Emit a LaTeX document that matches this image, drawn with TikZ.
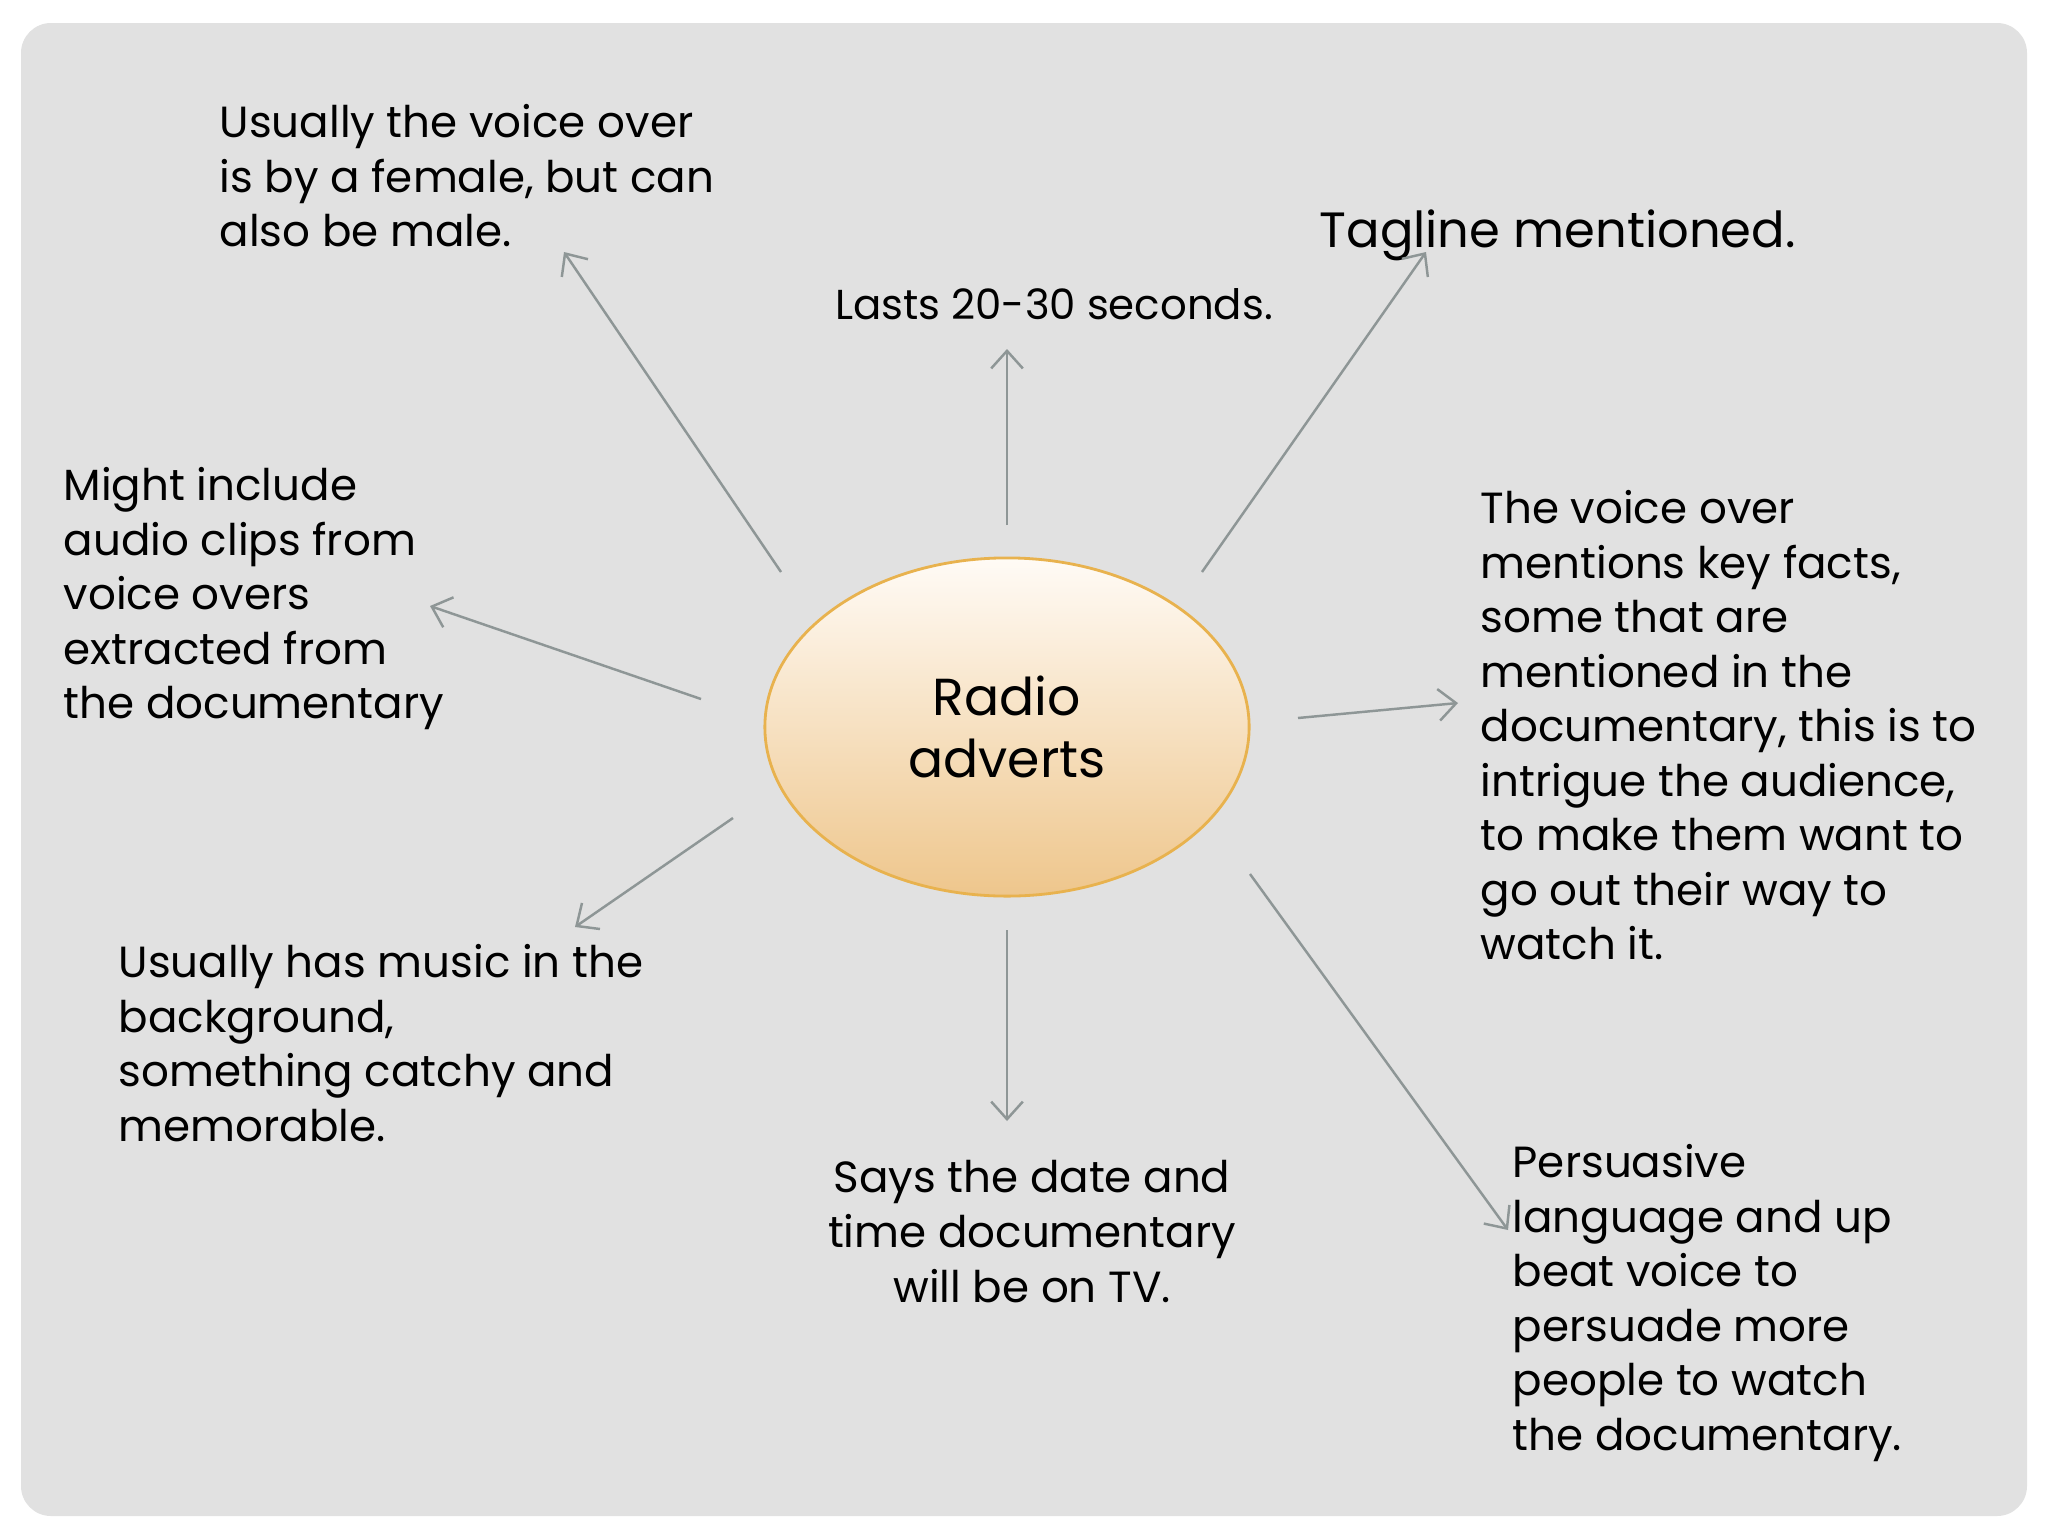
\documentclass[tikz,border=0pt]{standalone}
\usepackage{fontspec}
\setmainfont{Poppins}
\usetikzlibrary{arrows.meta,shapes.geometric}
\definecolor{bgcol}{HTML}{E1E1E1}
\definecolor{arrcol}{HTML}{8E9696}
\definecolor{elltop}{HTML}{FFFBF6}
\definecolor{ellbot}{HTML}{EEC68C}
\definecolor{elledge}{HTML}{E8B24E}
\tikzset{
  conn/.style={draw=arrcol, line width=0.7pt, -{Straight Barb[length=5pt,width=9pt,line width=0.7pt]}},
  body/.style={inner sep=0pt, align=left, font=\fontsize{12.4}{15.5}\selectfont},
}
\begin{document}
\begin{tikzpicture}[x=0.01cm,y=-0.01cm]
\useasboundingbox (0,0) rectangle (2048,1536);
\fill[white] (0,0) rectangle (2048,1536);
\fill[bgcol, rounded corners=0.3cm] (21,23) rectangle (2027,1516);

\node[ellipse, draw=elledge, line width=0.8pt, top color=elltop, bottom color=ellbot,
      minimum width=4.84cm, minimum height=3.38cm, inner sep=0pt, align=center,
      font=\fontsize{14.8}{17.5}\selectfont] (hub) at (1007,727) {Radio\\adverts};

\node[body, anchor=north west] (female) at (219,104) {Usually the voice over\\is by a female, but can\\also be male.};
\node[inner sep=0pt, anchor=base, font=\fontsize{11.9}{15.5}\selectfont] (lasts) at (1054,319) {Lasts 20-30 seconds.};
\node[inner sep=0pt, anchor=base west, font=\fontsize{14.1}{18}\selectfont] (tag) at (1319,247) {Tagline mentioned.};
\node[body, anchor=north west] (clips) at (63,467) {Might include\\audio clips from\\voice overs\\extracted from\\the documentary};
\node[body, anchor=north west] (facts) at (1480,490) {The voice over\\mentions key facts,\\some that are\\mentioned in the\\documentary, this is to\\intrigue the audience,\\to make them want to\\go out their way to\\watch it.};
\node[body, anchor=north west] (music) at (118,944) {Usually has music in the\\background,\\something catchy and\\memorable.};
\node[body, anchor=north, align=center] (date) at (1032,1160) {Says the date and\\time documentary\\will be on TV.};
\node[body, anchor=north west] (persuade) at (1512,1144) {Persuasive\\language and up\\beat voice to\\persuade more\\people to watch\\the documentary.};

\coordinate (s1) at (781,572);  \coordinate (e1) at (564,252);
\coordinate (s2) at (1007,525); \coordinate (e2) at (1007,349);
\coordinate (s3) at (1202,572); \coordinate (e3) at (1426,252);
\coordinate (s4) at (701,699);  \coordinate (e4) at (430,606);
\coordinate (s5) at (1298,718); \coordinate (e5) at (1458,703);
\coordinate (s6) at (733,818);  \coordinate (e6) at (575,927);
\coordinate (s7) at (1007,930); \coordinate (e7) at (1007,1121);
\coordinate (s8) at (1250,874); \coordinate (e8) at (1508,1230);

\foreach \i in {1,...,8} { \draw[conn] (s\i) -- (e\i); }
\end{tikzpicture}
\end{document}
